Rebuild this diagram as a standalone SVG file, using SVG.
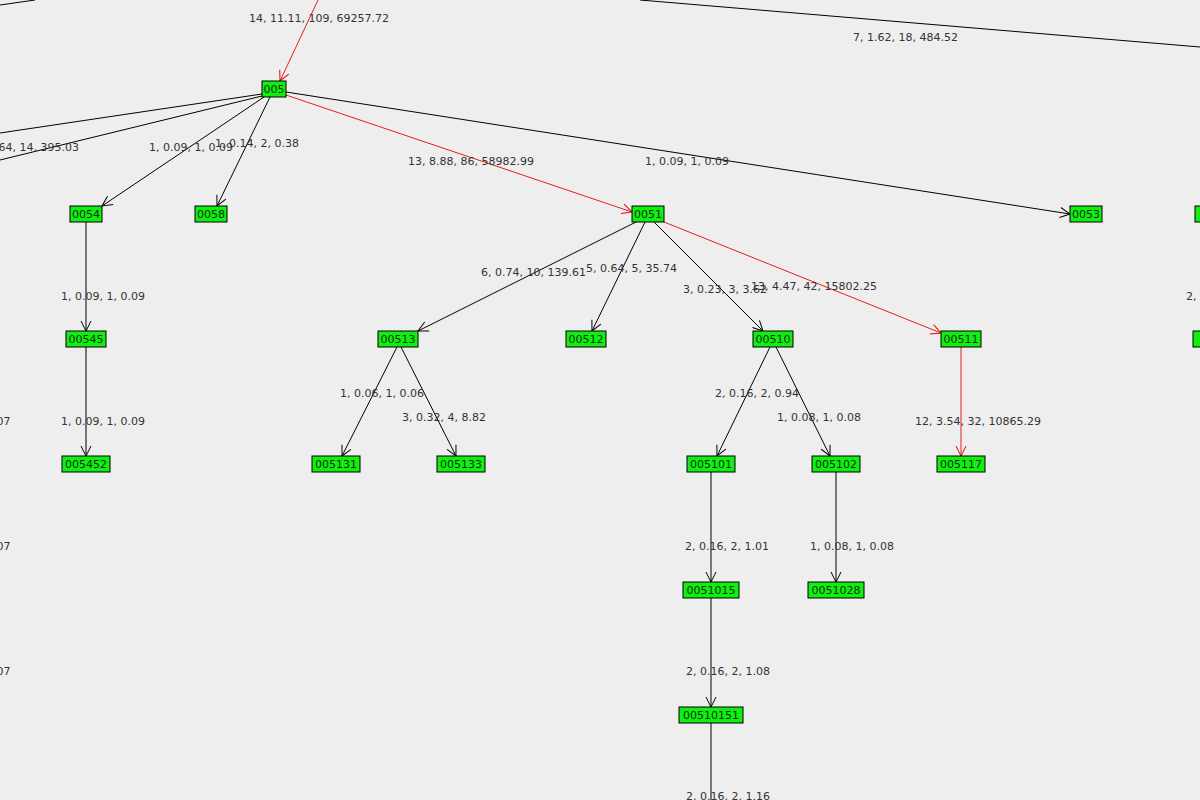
<svg xmlns="http://www.w3.org/2000/svg" width="1200" height="800" viewBox="0 0 1200 800">
<defs>
<marker id="a" viewBox="0 0 12 12" refX="11" refY="6" markerWidth="12" markerHeight="12" markerUnits="userSpaceOnUse" orient="auto"><path d="M1,1 L11,6 L1,11" fill="none" stroke="#000" stroke-width="1"/></marker>
<marker id="r" viewBox="0 0 12 12" refX="11" refY="6" markerWidth="12" markerHeight="12" markerUnits="userSpaceOnUse" orient="auto"><path d="M1,1 L11,6 L1,11" fill="none" stroke="#e00" stroke-width="1"/></marker>
</defs>
<style>
.n rect{fill:#11ee11;stroke:#000;stroke-width:1}
.n text{font-family:"DejaVu Sans","Liberation Sans",sans-serif;font-size:11px;fill:#063306;text-anchor:middle}
.e{stroke:#000;stroke-width:1;fill:none}
.e.k{marker-end:url(#a)}
.e.red{stroke:#e02020;marker-end:url(#r)}
.l{font-family:"DejaVu Sans","Liberation Sans",sans-serif;font-size:11px;fill:#333}
</style>
<rect width="1200" height="800" fill="#eeeeee"/>
<g id="connectors">
<line class="e red" x1="318" y1="0" x2="280" y2="81"/>
<line class="e" x1="640" y1="0" x2="1200" y2="47"/>
<line class="e" x1="0" y1="5" x2="35" y2="0"/>
<line class="e" x1="262" y1="94" x2="0" y2="133"/>
<line class="e" x1="262" y1="96" x2="0" y2="160"/>
<line class="e k" x1="264" y1="97" x2="102" y2="206"/>
<line class="e k" x1="270" y1="97" x2="217" y2="206"/>
<line class="e red" x1="286" y1="95" x2="632" y2="212"/>
<line class="e k" x1="286" y1="92" x2="1070" y2="214"/>
<line class="e k" x1="86" y1="222" x2="86" y2="331"/>
<line class="e k" x1="86" y1="347" x2="86" y2="456"/>
<line class="e k" x1="636" y1="222" x2="418" y2="331"/>
<line class="e k" x1="645" y1="222" x2="592" y2="331"/>
<line class="e k" x1="654" y1="222" x2="763" y2="331"/>
<line class="e red" x1="664" y1="222" x2="941" y2="333"/>
<line class="e k" x1="397" y1="347" x2="342" y2="456"/>
<line class="e k" x1="401" y1="347" x2="456" y2="456"/>
<line class="e k" x1="770" y1="347" x2="717" y2="456"/>
<line class="e k" x1="776" y1="347" x2="830" y2="456"/>
<line class="e red" x1="961" y1="347" x2="961" y2="456"/>
<line class="e k" x1="711" y1="472" x2="711" y2="582"/>
<line class="e k" x1="836" y1="472" x2="836" y2="582"/>
<line class="e k" x1="711" y1="598" x2="711" y2="707"/>
<line class="e" x1="711" y1="723" x2="711" y2="800"/>
</g>
<g id="labels">
<text class="l" x="249" y="22">14, 11.11, 109, 69257.72</text>
<text class="l" x="853" y="41">7, 1.62, 18, 484.52</text>
<text class="l" x="-5" y="151">.64, 14, 395.03</text>
<text class="l" x="149" y="151">1, 0.09, 1, 0.09</text>
<text class="l" x="215" y="147">1, 0.14, 2, 0.38</text>
<text class="l" x="408" y="165">13, 8.88, 86, 58982.99</text>
<text class="l" x="645" y="165">1, 0.09, 1, 0.09</text>
<text class="l" x="61" y="300">1, 0.09, 1, 0.09</text>
<text class="l" x="61" y="425">1, 0.09, 1, 0.09</text>
<text class="l" x="481" y="276">6, 0.74, 10, 139.61</text>
<text class="l" x="586" y="272">5, 0.64, 5, 35.74</text>
<text class="l" x="683" y="293">3, 0.23, 3, 3.62</text>
<text class="l" x="751" y="290">13, 4.47, 42, 15802.25</text>
<text class="l" x="1186" y="300">2,</text>
<text class="l" x="-7" y="425">.07</text>
<text class="l" x="-7" y="550">.07</text>
<text class="l" x="-7" y="675">.07</text>
<text class="l" x="340" y="397">1, 0.06, 1, 0.06</text>
<text class="l" x="402" y="421">3, 0.32, 4, 8.82</text>
<text class="l" x="715" y="397">2, 0.16, 2, 0.94</text>
<text class="l" x="777" y="421">1, 0.08, 1, 0.08</text>
<text class="l" x="915" y="425">12, 3.54, 32, 10865.29</text>
<text class="l" x="685" y="550">2, 0.16, 2, 1.01</text>
<text class="l" x="810" y="550">1, 0.08, 1, 0.08</text>
<text class="l" x="686" y="675">2, 0.16, 2, 1.08</text>
<text class="l" x="686" y="800">2, 0.16, 2, 1.16</text>
</g>
<g id="n005" class="n"><rect x="262" y="81" width="24" height="16"/><text x="274" y="93">005</text></g>
<g id="n0054" class="n"><rect x="70" y="206" width="32" height="16"/><text x="86" y="218">0054</text></g>
<g id="n0058" class="n"><rect x="195" y="206" width="32" height="16"/><text x="211" y="218">0058</text></g>
<g id="n0051" class="n"><rect x="632" y="206" width="32" height="16"/><text x="648" y="218">0051</text></g>
<g id="n0053" class="n"><rect x="1070" y="206" width="32" height="16"/><text x="1086" y="218">0053</text></g>
<g id="nR1" class="n"><rect x="1195" y="206" width="32" height="16"/></g>
<g id="n00545" class="n"><rect x="66" y="331" width="40" height="16"/><text x="86" y="343">00545</text></g>
<g id="n00513" class="n"><rect x="378" y="331" width="40" height="16"/><text x="398" y="343">00513</text></g>
<g id="n00512" class="n"><rect x="566" y="331" width="40" height="16"/><text x="586" y="343">00512</text></g>
<g id="n00510" class="n"><rect x="753" y="331" width="40" height="16"/><text x="773" y="343">00510</text></g>
<g id="n00511" class="n"><rect x="941" y="331" width="40" height="16"/><text x="961" y="343">00511</text></g>
<g id="nR2" class="n"><rect x="1193" y="331" width="40" height="16"/></g>
<g id="n005452" class="n"><rect x="62" y="456" width="48" height="16"/><text x="86" y="468">005452</text></g>
<g id="n005131" class="n"><rect x="312" y="456" width="48" height="16"/><text x="336" y="468">005131</text></g>
<g id="n005133" class="n"><rect x="437" y="456" width="48" height="16"/><text x="461" y="468">005133</text></g>
<g id="n005101" class="n"><rect x="687" y="456" width="48" height="16"/><text x="711" y="468">005101</text></g>
<g id="n005102" class="n"><rect x="812" y="456" width="48" height="16"/><text x="836" y="468">005102</text></g>
<g id="n005117" class="n"><rect x="937" y="456" width="48" height="16"/><text x="961" y="468">005117</text></g>
<g id="n0051015" class="n"><rect x="683" y="582" width="56" height="16"/><text x="711" y="594">0051015</text></g>
<g id="n0051028" class="n"><rect x="808" y="582" width="56" height="16"/><text x="836" y="594">0051028</text></g>
<g id="n00510151" class="n"><rect x="679" y="707" width="64" height="16"/><text x="711" y="719">00510151</text></g>
</svg>
